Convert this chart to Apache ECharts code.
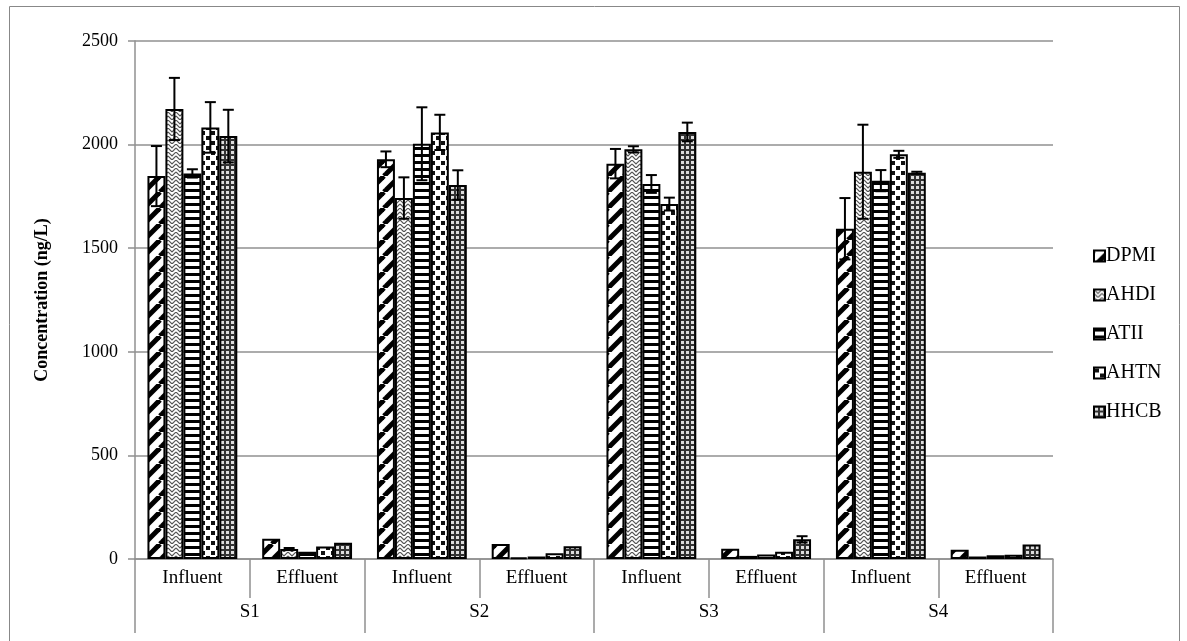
<!DOCTYPE html>
<html>
<head>
<meta charset="utf-8">
<script src="https://cdn.jsdelivr.net/npm/echarts@6/dist/echarts.min.js"></script>
<style>
  html, body { margin: 0; padding: 0; background: #fff; }
  #chart { width: 1187px; height: 641px; }
</style>
</head>
<body>
<div id="chart"></div>
<script>
// categories
var samples = ['Influent', 'Effluent', 'Influent', 'Effluent', 'Influent', 'Effluent', 'Influent', 'Effluent'];
var sites = ['S1', 'S2', 'S3', 'S4'];
var names = ['DPMI', 'AHDI', 'ATII', 'AHTN', 'HHCB'];

// values (ng/L) and error bars
var DPMI = [1848, 98, 1929, 72, 1908, 50, 1594, 45];
var AHDI = [2172, 48, 1742, 8, 1977, 15, 1869, 12];
var ATII = [1861, 35, 2004, 12, 1810, 22, 1826, 18];
var AHTN = [2083, 60, 2059, 28, 1713, 35, 1953, 20];
var HHCB = [2041, 78, 1805, 62, 2061, 95, 1864, 70];

var DPMI_err = [145, 0, 38, 0, 71, 0, 148, 0];
var AHDI_err = [150, 5, 100, 0, 15, 0, 227, 0];
var ATII_err = [20, 0, 176, 0, 43, 0, 51, 0];
var AHTN_err = [122, 0, 85, 0, 31, 0, 17, 0];
var HHCB_err = [127, 0, 71, 0, 45, 15, 5, 0];

var yTicks = [0, 500, 1000, 1500, 2000, 2500];

var values = [DPMI, AHDI, ATII, AHTN, HHCB];
var errs = [DPMI_err, AHDI_err, ATII_err, AHTN_err, HHCB_err];

var FONT = '"Liberation Serif", "Times New Roman", serif';
var GAP = 0.217;

// hatch fills
function pattern(size, draw) {
    var c = document.createElement('canvas');
    c.width = size; c.height = size;
    var ctx = c.getContext('2d');
    ctx.fillStyle = '#fff';
    ctx.fillRect(0, 0, size, size);
    draw(ctx, size);
    return { image: c, repeat: 'repeat' };
}
var fills = [
    // wide diagonal
    pattern(16, function (ctx, s) {
        ctx.strokeStyle = '#000';
        ctx.lineWidth = 5;
        for (var k = -1; k <= 1; k++) {
            ctx.beginPath();
            ctx.moveTo(k * s, s);
            ctx.lineTo(k * s + s, 0);
            ctx.stroke();
        }
    }),
    // zigzag weave
    pattern(8, function (ctx, s) {
        ctx.strokeStyle = '#555';
        ctx.lineWidth = 1.2;
        ctx.beginPath();
        ctx.moveTo(0, 0); ctx.lineTo(s / 2, s / 2); ctx.lineTo(s, 0);
        ctx.moveTo(0, s / 2); ctx.lineTo(s / 2, s); ctx.lineTo(s, s / 2);
        ctx.stroke();
    }),
    // horizontal stripes
    pattern(7, function (ctx, s) {
        ctx.fillStyle = '#000';
        ctx.fillRect(0, 0, s, 3);
    }),
    // large dots
    pattern(10, function (ctx, s) {
        ctx.fillStyle = '#111';
        ctx.fillRect(1, 1, 4, 4);
        ctx.fillRect(6, 6, 4, 4);
    }),
    // dense grid
    pattern(5, function (ctx, s) {
        ctx.fillStyle = '#333';
        ctx.fillRect(0, 0, s, s);
        ctx.fillStyle = '#ddd';
        ctx.fillRect(1, 1, 3, 3);
    })
];

var errData = [];
for (var i = 0; i < names.length; i++) {
    for (var j = 0; j < samples.length; j++) {
        errData.push([j, values[i][j], errs[i][j], i]);
    }
}

var series = names.map(function (n, i) {
    return {
        name: n,
        type: 'bar',
        xAxisIndex: 0,
        data: values[i],
        barGap: '0%',
        barCategoryGap: (GAP * 100) + '%',
        itemStyle: { color: fills[i], borderColor: '#000', borderWidth: 2 }
    };
});

series.push({
    type: 'custom',
    xAxisIndex: 0,
    z: 5,
    silent: true,
    encode: { x: 0, y: 1 },
    data: errData,
    renderItem: function (params, api) {
        var idx = api.value(0), v = api.value(1), e = api.value(2), si = api.value(3);
        if (!e) return;
        var band = api.size([1, 0])[0];
        var bw = band * (1 - GAP) / 5;
        var cx = api.coord([idx, v])[0] + (si - 2) * bw;
        var top = api.coord([idx, v + e])[1];
        var bot = api.coord([idx, v - e])[1];
        var h = 5.5;
        var st = { stroke: '#000', lineWidth: 2 };
        return {
            type: 'group',
            children: [
                { type: 'line', shape: { x1: cx, y1: top, x2: cx, y2: bot }, style: st },
                { type: 'line', shape: { x1: cx - h, y1: top, x2: cx + h, y2: top }, style: st },
                { type: 'line', shape: { x1: cx - h, y1: bot, x2: cx + h, y2: bot }, style: st }
            ]
        };
    }
});

var chart = echarts.init(document.getElementById('chart'));
chart.setOption({
    animation: false,
    textStyle: { fontFamily: FONT },
    grid: { left: 135, right: 134, top: 41, bottom: 82 },
    legend: {
        data: names,
        orient: 'vertical',
        left: 1088,
        top: 241,
        itemWidth: 11,
        itemHeight: 11,
        itemGap: 19,
        icon: 'rect',
        textStyle: { fontFamily: FONT, fontSize: 20, color: '#000', padding: [0, 0, 0, -4] }
    },
    graphic: [{
        type: 'rect',
        shape: { x: 9.5, y: 6.5, width: 1170, height: 640 },
        style: { fill: 'none', stroke: '#888', lineWidth: 1 },
        silent: true
    }],
    xAxis: [{
        type: 'category',
        data: samples,
        axisLine: { lineStyle: { color: '#909090', width: 1.5 } },
        axisTick: { show: true, interval: 0, length: 39, lineStyle: { color: '#909090', width: 1.5 } },
        axisLabel: { interval: 0, margin: 10, fontSize: 19, color: '#000', fontFamily: FONT }
    }, {
        type: 'category',
        data: sites,
        position: 'bottom',
        axisLine: { show: false },
        axisTick: { show: true, interval: 0, length: 74, lineStyle: { color: '#909090', width: 1.5 } },
        axisLabel: { interval: 0, margin: 44, fontSize: 19, color: '#000', fontFamily: FONT }
    }],
    yAxis: {
        type: 'value',
        min: 0,
        max: 2500,
        interval: 500,
        name: 'Concentration (ng/L)',
        nameLocation: 'middle',
        nameGap: 84,
        nameTextStyle: { fontFamily: FONT, fontSize: 18, fontWeight: 'bold', color: '#000' },
        axisLine: { show: true, lineStyle: { color: '#909090', width: 1.5 } },
        axisTick: { show: true, length: 7, lineStyle: { color: '#909090', width: 1.5 } },
        axisLabel: {
            margin: 17, fontSize: 18, color: '#000', fontFamily: FONT,
            formatter: function (v) { return yTicks.indexOf(v) >= 0 ? String(v) : ''; }
        },
        splitLine: { lineStyle: { color: '#909090', width: 1.5 } }
    },
    series: series
});
</script>
</body>
</html>
